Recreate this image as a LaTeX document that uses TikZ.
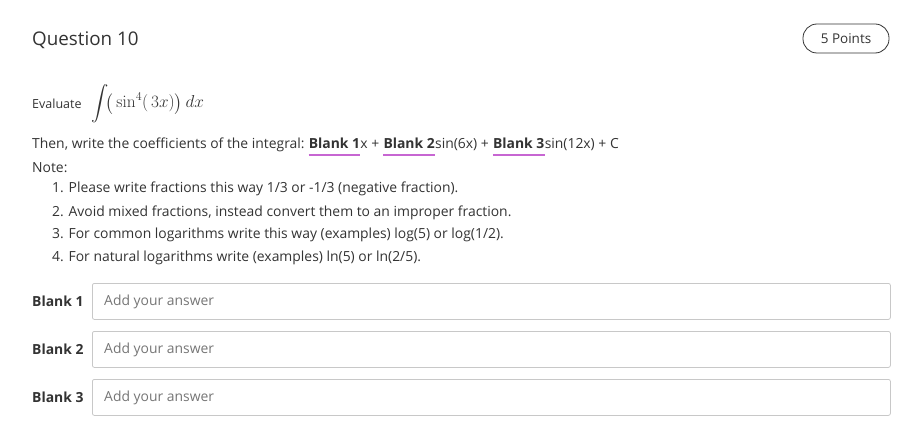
\documentclass[tikz,border=0pt]{standalone}
\usepackage[no-math]{fontspec}
\setmainfont{Open Sans}
\usepackage{amsmath}
\definecolor{txt}{HTML}{333333}
\definecolor{ul}{HTML}{C766D2}
\definecolor{bx}{HTML}{C8C8C8}
\definecolor{ph}{HTML}{757575}
\begin{document}
\begin{tikzpicture}[x=1pt,y=-1pt,
  t/.style={anchor=base west,inner sep=0pt,text=txt,font=\fontsize{13.9}{16}\selectfont},
  tb/.style={t,font=\fontsize{13.9}{16}\selectfont\bfseries},
  lbl/.style={t,font=\fontsize{13.9}{16}\selectfont\bfseries},
  ansbox/.style={draw=bx,line width=0.8pt,rounded corners=2pt,minimum width=798pt,minimum height=36pt,anchor=north west,inner sep=0pt},
  phtext/.style={t,text=ph}]
\useasboundingbox (0,0) rectangle (912,422);
\node[t,font=\fontsize{18.8}{22}\selectfont] (title) at (32,46) {Question 10};
\node[draw=txt,line width=0.8pt,rounded corners=14pt,minimum width=86pt,minimum height=29pt,inner sep=0pt,text=txt,font=\fontsize{13.5}{15}\selectfont] (pts) at (846,38.5) {5 Points};
\node[t,font=\fontsize{12.5}{14}\selectfont] (eval) at (32,109) {Evaluate};
\node[anchor=base west,inner sep=0pt,text=txt,font=\fontsize{16.5}{19}\selectfont] (int) at (91,108) {$\displaystyle\int\!\bigl(\,\sin^4(\,3x)\bigr)\,dx$};
\node[t] (th) at (32,149) {Then, write the coefficients of the integral:\kern3.8pt};
\node[tb] (b1t) at (th.base east) {Blank 1};
\node[t] (x1) at (b1t.base east) {x +\kern3.8pt};
\node[tb] (b2t) at (x1.base east) {Blank 2};
\node[t] (x2) at (b2t.base east) {sin(6x) +\kern3.8pt};
\node[tb] (b3t) at (x2.base east) {Blank 3};
\node[t] (x3) at (b3t.base east) {sin(12x) + C};
\foreach \n in {b1t,b2t,b3t}
  \draw[ul,line width=1.5pt] ([yshift=-6pt]\n.base west)--([yshift=-6pt]\n.base east);
\node[t] (note) at (32,173) {Note:};
\node[t] (l1) at (52,193) {1. Please write fractions this way 1/3 or -1/3 (negative fraction).};
\node[t] (l2) at (52,216) {2. Avoid mixed fractions, instead convert them to an improper fraction.};
\node[t] (l3) at (52,238) {3. For common logarithms write this way (examples) log(5) or log(1/2).};
\node[t] (l4) at (52,261) {4. For natural logarithms write (examples) ln(5) or ln(2/5).};
\foreach \i/\y in {1/283,2/331,3/379}{
  \node[ansbox] (b\i) at (92,\y) {};
  \node[lbl] (bl\i) at (32,\y+23) {Blank \i};
  \node[phtext] (p\i) at (104,\y+22.5) {Add your answer};
}
\end{tikzpicture}
\end{document}
